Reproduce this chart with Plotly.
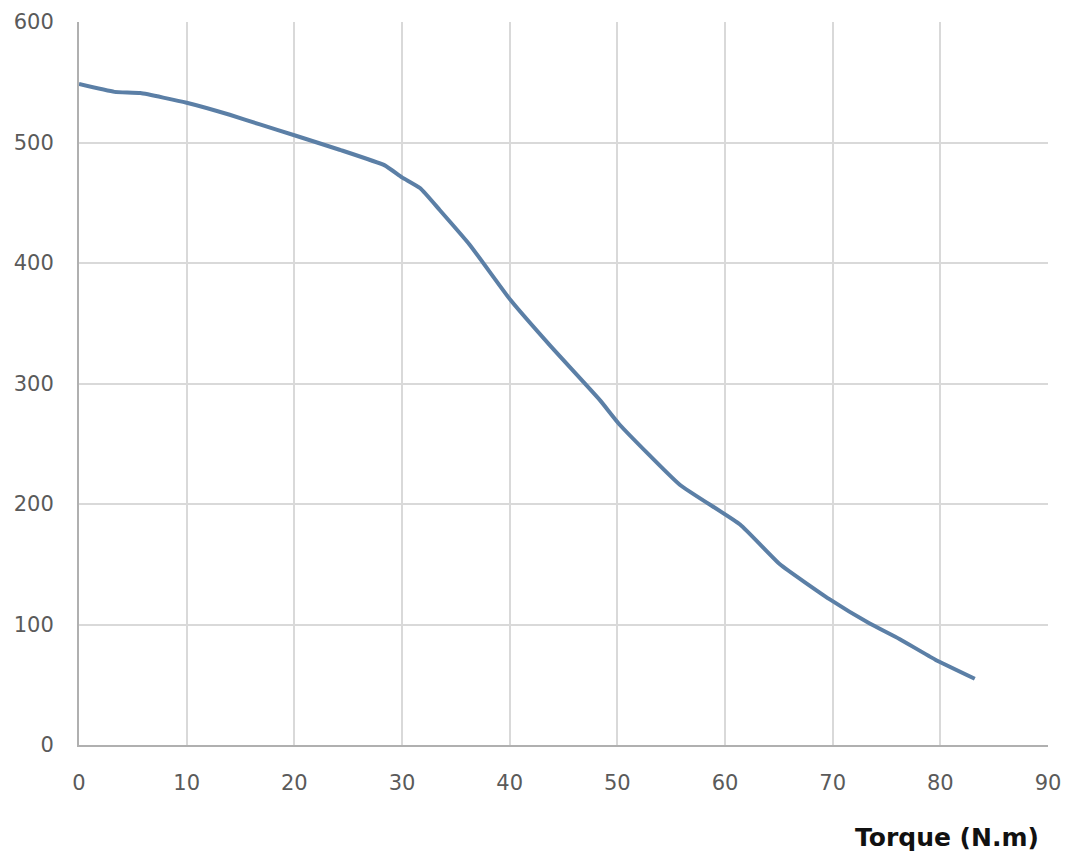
import plotly.graph_objects as go

torque = [0, 3.3, 5.7, 10, 14, 16.8, 20, 24.2, 28.4, 30, 31.7, 33.5, 36.3, 40.1,
          43.7, 48.4, 50.2, 55.8, 61.4, 65.1, 69.7, 73.4, 76.2, 79.5, 83.2]
speed = [548.5, 542, 541, 533, 523, 515, 506, 494, 481, 471, 462, 444, 415, 369,
         332, 286, 266, 216, 183, 150, 121, 101, 88, 71, 55]

x_ticks = [0, 10, 20, 30, 40, 50, 60, 70, 80, 90]
y_ticks = [0, 100, 200, 300, 400, 500, 600]

fig = go.Figure()
fig.add_trace(go.Scatter(x=torque, y=speed, mode="lines",
                         line=dict(color="#5b7fa6", width=4, shape="spline", smoothing=0.4),
                         showlegend=False))

tickfont = dict(family="DejaVu Sans", size=21, color="#5a5a5a")
fig.update_layout(
    width=1054, height=846,
    paper_bgcolor="white", plot_bgcolor="white",
    margin=dict(l=71, r=14, t=14, b=109, autoexpand=False),
    xaxis=dict(range=[0, 90], tickvals=x_ticks, showgrid=True, gridcolor="#d9d9d9",
               gridwidth=1.5, showline=True, linecolor="#b0b0b0", linewidth=2,
               zeroline=False, tickfont=tickfont, ticks="", ticklabelstandoff=18,
               automargin=False),
    yaxis=dict(range=[0, 600], tickvals=y_ticks, showgrid=True, gridcolor="#d9d9d9",
               gridwidth=1.5, showline=True, linecolor="#b0b0b0", linewidth=2,
               zeroline=False, tickfont=tickfont, ticks="", ticklabelstandoff=19,
               automargin=False),
    annotations=[dict(text="<b>Torque (N.m)</b>", xref="paper", yref="paper",
                      x=1.0, y=-0.128, xanchor="right", yanchor="middle", xshift=-7,
                      showarrow=False,
                      font=dict(family="DejaVu Sans", size=25, color="#111111"))],
)
fig.write_html("out.html")
